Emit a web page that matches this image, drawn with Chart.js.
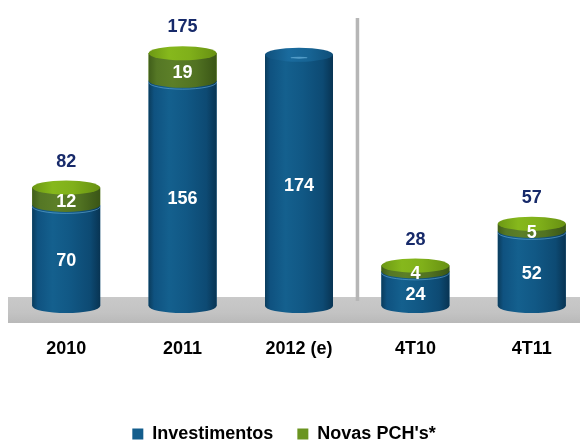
<!DOCTYPE html>
<html><head><meta charset="utf-8">
<script src="https://cdn.jsdelivr.net/npm/chart.js@4/dist/chart.umd.min.js"></script>
<style>html,body{margin:0;padding:0;overflow:hidden;background:#fff;width:580px;height:442px}
#wrap{position:relative;width:592px;height:442px}</style></head>
<body><div id="wrap"><canvas id="c" width="592" height="442"></canvas></div>
<script>
const categories = ['2010', '2011', '2012 (e)', '4T10', '4T11'];
const investimentos = [70, 156, 174, 24, 52];
const novasPCH = [12, 19, null, 4, 5];
const totals = [82, 175, null, 28, 57];
const seriesNames = ['Investimentos', "Novas PCH's*"];

const FONT = "'Liberation Sans', Arial, sans-serif";

function hGrad(ctx, left, w, stops) {
  const g = ctx.createLinearGradient(left, 0, left + w, 0);
  stops.forEach(([o, c]) => g.addColorStop(o, c));
  return g;
}

const cylinders = {
  id: 'cylinders',
  beforeDatasetsDraw(chart) {
    const {ctx, chartArea, scales: {x, y}} = chart;
    const base = y.getPixelForValue(0);
    ctx.save();
    const g = ctx.createLinearGradient(0, base - 9, 0, base + 17);
    g.addColorStop(0, '#c9c9c9'); g.addColorStop(0.6, '#c3c3c3'); g.addColorStop(1, '#b9b9b9');
    ctx.fillStyle = g;
    ctx.fillRect(chartArea.left, base - 9, chart.width, 26);
    const sx = (x.getPixelForValue(2) + x.getPixelForValue(3)) / 2;
    ctx.fillStyle = '#b6b6b6';
    ctx.fillRect(sx - 1.5, 18, 3.5, base - 5 - 18);
    ctx.restore();
  },
  afterDatasetsDraw(chart) {
    const {ctx} = chart;
    const m0 = chart.getDatasetMeta(0).data;
    const m1 = chart.getDatasetMeta(1).data;
    ctx.save();
    for (let i = 0; i < categories.length; i++) {
      const b = m0[i];
      const cx = b.x, w = b.width, rx = w / 2, ry = 7, left = cx - rx;
      const baseY = b.base, blueTop = b.y;
      ctx.beginPath();
      ctx.moveTo(left, blueTop);
      ctx.lineTo(left, baseY);
      ctx.ellipse(cx, baseY, rx, ry, 0, Math.PI, 0, true);
      ctx.lineTo(left + w, blueTop);
      ctx.closePath();
      ctx.fillStyle = hGrad(ctx, left, w, [[0, '#0a3c5c'], [0.08, '#0f5280'], [0.3, '#14608e'], [0.55, '#115885'], [0.85, '#0d4a73'], [1, '#083453']]);
      ctx.fill();
      const hasGreen = novasPCH[i] !== null && novasPCH[i] !== undefined && novasPCH[i] > 0;
      let top = blueTop;
      if (hasGreen) {
        const gEl = m1[i];
        const gTop = gEl.y, gBase = gEl.base;
        ctx.beginPath();
        ctx.ellipse(cx, gBase + 1.5, rx, ry, 0, 0, Math.PI);
        ctx.strokeStyle = 'rgba(110,180,225,0.55)';
        ctx.lineWidth = 1;
        ctx.stroke();
        ctx.beginPath();
        ctx.moveTo(left, gTop);
        ctx.lineTo(left, gBase);
        ctx.ellipse(cx, gBase, rx, ry, 0, Math.PI, 0, true);
        ctx.lineTo(left + w, gTop);
        ctx.closePath();
        ctx.fillStyle = hGrad(ctx, left, w, [[0, '#405e1a'], [0.12, '#557725'], [0.35, '#5c7f28'], [0.7, '#517222'], [1, '#3a5516']]);
        ctx.fill();
        top = gTop;
        ctx.beginPath();
        ctx.ellipse(cx, gTop, rx, ry, 0, 0, Math.PI * 2);
        ctx.fillStyle = hGrad(ctx, left, w, [[0, '#6c9814'], [0.3, '#86b81c'], [0.6, '#80b01a'], [1, '#679012']]);
        ctx.fill();
      } else {
        ctx.beginPath();
        ctx.ellipse(cx, blueTop, rx, ry, 0, 0, Math.PI * 2);
        ctx.fillStyle = hGrad(ctx, left, w, [[0, '#10507c'], [0.35, '#1a6b9e'], [0.65, '#176494'], [1, '#0f4e78']]);
        ctx.fill();
        ctx.beginPath();
        ctx.ellipse(cx, blueTop + 3, rx * 0.25, 1, 0, 0, Math.PI * 2);
        ctx.fillStyle = 'rgba(120,190,230,0.6)';
        ctx.fill();
      }
      ctx.textAlign = 'center';
      ctx.textBaseline = 'middle';
      ctx.font = 'bold 18px ' + FONT;
      ctx.fillStyle = '#ffffff';
      ctx.fillText(String(investimentos[i]), cx, (blueTop + baseY) / 2 + 6);
      if (hasGreen) {
        const gEl = m1[i];
        ctx.fillText(String(novasPCH[i]), cx, (gEl.y + gEl.base) / 2 + 6);
      }
      if (totals[i] !== null) {
        ctx.fillStyle = '#172a6a';
        ctx.fillText(String(totals[i]), cx, top - 26);
      }
    }
    ctx.restore();
  }
};

const shiftLegend = {
  id: 'shiftLegend',
  afterLayout(chart) {
    const l = chart.legend;
    if (!l) return;
    l.left -= 15; l.right -= 15; l.top += 11; l.bottom += 11;
  }
};

new Chart(document.getElementById('c'), {
  type: 'bar',
  data: {
    labels: categories,
    datasets: [
      {label: seriesNames[0], data: investimentos, backgroundColor: '#135d8c', borderWidth: 0, categoryPercentage: 0.584, barPercentage: 1},
      {label: seriesNames[1], data: novasPCH, backgroundColor: '#6a9420', borderWidth: 0, categoryPercentage: 0.584, barPercentage: 1}
    ]
  },
  options: {
    responsive: false,
    animation: false,
    devicePixelRatio: 1,
    layout: {padding: {top: 20, left: 8, right: 2, bottom: 0}},
    scales: {
      x: {
        stacked: true,
        grid: {display: false, drawTicks: false},
        border: {display: false},
        ticks: {padding: 32, color: '#000', font: {family: FONT, size: 18, weight: 'bold'}, maxRotation: 0, autoSkip: false},
        afterFit(s) { s.height = 84; }
      },
      y: {stacked: true, display: false, min: 0, max: 198}
    },
    plugins: {
      legend: {
        position: 'bottom',
        labels: {boxWidth: 11, boxHeight: 11, padding: 24, color: '#000', font: {family: FONT, size: 18, weight: 'bold'}}
      },
      tooltip: {enabled: false}
    }
  },
  plugins: [cylinders, shiftLegend]
});
</script>
</body></html>
